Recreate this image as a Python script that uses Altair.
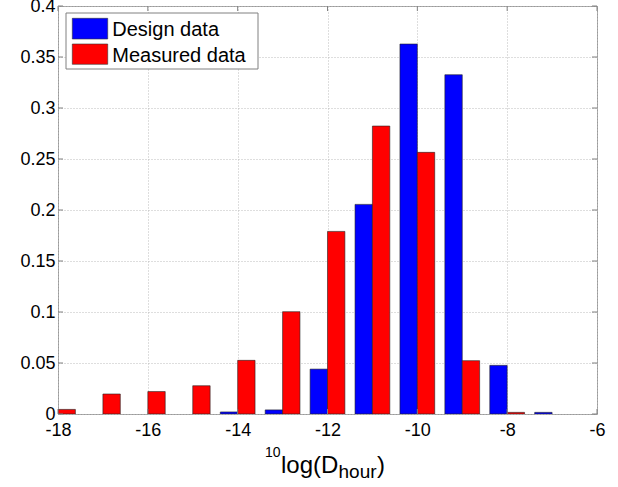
import altair as alt
import pandas as pd

# ---- data ----
centers = [-18, -17, -16, -15, -14, -13, -12, -11, -10, -9, -8, -7]
design = [0.0, 0.0, 0.0, 0.0, 0.002, 0.004, 0.044, 0.2055, 0.3627, 0.3326, 0.0477, 0.0016]
measured = [0.0045, 0.0196, 0.022, 0.0277, 0.0526, 0.1003, 0.179, 0.2823, 0.2565, 0.0523, 0.0016, 0.0]
series = ["Design data", "Measured data"]
colors = ["#0000FF", "#FF0000"]
x_ticks = [-18, -16, -14, -12, -10, -8, -6]
y_ticks = [0, 0.05, 0.1, 0.15, 0.2, 0.25, 0.3, 0.35, 0.4]

BAR_W = 0.387
W, H = 539, 408
FONT = "Liberation Sans"

rows = []
for c, d, m in zip(centers, design, measured):
    rows.append({"series": series[0], "x0": c - BAR_W, "x1": c, "value": d})
    rows.append({"series": series[1], "x0": c, "x1": c + BAR_W, "value": m})
df = pd.DataFrame(rows)

xs = alt.Scale(domain=[-18, -6], nice=False, zero=False)
ys = alt.Scale(domain=[0, 0.4], nice=False)
LBL = "datum.value < 0 ? '-' + format(-datum.value, '~g') : format(datum.value, '~g')"

bars = alt.Chart(df).transform_filter("datum.value > 0").mark_bar(
    clip=True, stroke="#222222", strokeWidth=0.6
).encode(
    x=alt.X("x0:Q", scale=xs, title=None,
            axis=alt.Axis(values=x_ticks, labelExpr=LBL, grid=True, ticks=False, tickSize=0,
                          domain=False, labelPadding=7, labelFontSize=18, labelFont=FONT,
                          labelColor="black", gridColor="#bdbdbd", gridDash=[1, 2],
                          labelFlush=False)),
    x2="x1:Q",
    y=alt.Y("value:Q", scale=ys, title=None,
            axis=alt.Axis(values=y_ticks, labelExpr=LBL, grid=True, ticks=False, tickSize=0,
                          domain=False, labelPadding=3, labelFontSize=18, labelFont=FONT,
                          labelColor="black", gridColor="#bdbdbd", gridDash=[1, 2],
                          labelFlush=False)),
    y2=alt.datum(0),
    color=alt.Color("series:N", scale=alt.Scale(domain=series, range=colors), legend=None),
)

# inward tick marks on all four sides
xt = pd.DataFrame({"t": x_ticks})
yt = pd.DataFrame({"t": y_ticks})
tick_color = "#808080"
xb = alt.Chart(xt).mark_rule(color=tick_color).encode(
    x=alt.X("t:Q", scale=xs), y=alt.value(H), y2=alt.value(H - 5))
xtp = alt.Chart(xt).mark_rule(color=tick_color).encode(
    x=alt.X("t:Q", scale=xs), y=alt.value(0), y2=alt.value(5))
yl = alt.Chart(yt).mark_rule(color=tick_color).encode(
    y=alt.Y("t:Q", scale=ys), x=alt.value(0), x2=alt.value(5))
yr = alt.Chart(yt).mark_rule(color=tick_color).encode(
    y=alt.Y("t:Q", scale=ys), x=alt.value(W), x2=alt.value(W - 5))

# legend box (drawn inside the axes, top-left)
leg_box = alt.Chart(pd.DataFrame({"a": [0]})).mark_rect(
    fill="white", stroke="#808080", strokeWidth=1
).encode(x=alt.value(8), x2=alt.value(200), y=alt.value(7), y2=alt.value(63))
leg_layers = [leg_box]
sw_y = [(12.3, 33.0), (38.0, 58.3)]
txt_y = [29.7, 56.3]
for name, col, (a, b), ty in zip(series, colors, sw_y, txt_y):
    leg_layers.append(alt.Chart(pd.DataFrame({"a": [0]})).mark_rect(
        fill=col, stroke="#333333", strokeWidth=0.6
    ).encode(x=alt.value(14.3), x2=alt.value(49.7), y=alt.value(a), y2=alt.value(b)))
    leg_layers.append(alt.Chart(pd.DataFrame({"a": [0]})).mark_text(
        text=name, align="left", baseline="alphabetic", font=FONT, fontSize=20, color="black"
    ).encode(x=alt.value(54.3), y=alt.value(ty)))

# axis title: 10log(D_hour)
def txt(s, x, y, size):
    return alt.Chart(pd.DataFrame({"a": [0]})).mark_text(
        text=s, align="left", baseline="alphabetic", font=FONT, fontSize=size, color="black"
    ).encode(x=alt.value(x), y=alt.value(y))

title_layers = [
    txt("10", 207, 450.7, 14),
    txt("log(D", 223, 466.7, 24),
    txt("hour", 280.5, 472.3, 19),
    txt(")", 319, 466.7, 24),
]

chart = alt.layer(bars, xb, xtp, yl, yr, *leg_layers, *title_layers).properties(
    width=W, height=H,
    autosize=alt.AutoSizeParams(type="none"),
    padding={"left": 58, "top": 6, "right": 21, "bottom": 73},
    background="white",
).configure_view(stroke="#9a9a9a", strokeWidth=1)

chart.save("out.html", embed_options={"renderer": "svg", "actions": False})
